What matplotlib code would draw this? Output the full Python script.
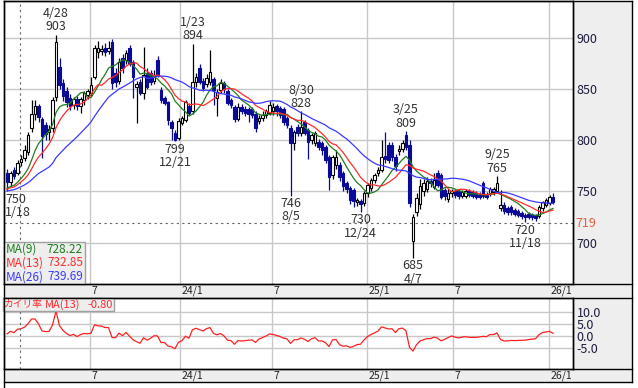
import numpy as np
import pandas as pd
import matplotlib
matplotlib.use("Agg")
import matplotlib.pyplot as plt
from matplotlib.patches import Rectangle
from matplotlib.lines import Line2D
from matplotlib import transforms

plt.rcParams['font.family'] = ['Noto Sans CJK JP', 'DejaVu Sans']

# weekly closes before the visible window (only feed the moving averages)
pre_closes = [748, 744, 741, 745, 750, 753, 749, 746, 750, 755, 752, 748, 751, 754, 750, 747,
              751, 755, 752, 749, 753, 756, 752, 750]

# weekly candles, week 0 = week of 2023-01-16
opens = [768, 759, 771, 768, 779, 783, 788, 812, 826, 833, 821, 815, 808, 812, 842, 871, 856, 848, 841, 834,
         840, 833, 839, 844, 846, 862, 886, 887, 890, 887, 896, 866, 858, 880, 878, 890, 876, 852, 857, 846,
         866, 866, 858, 878, 849, 841, 837, 818, 807, 802, 817, 820, 833, 828, 857, 870, 858, 855, 857, 860,
         841, 849, 856, 848, 839, 832, 821, 832, 830, 830, 830, 826, 819, 822, 825, 827, 828, 833, 831, 830,
         822, 812, 797, 813, 807, 818, 810, 800, 797, 798, 797, 793, 784, 766, 776, 776, 768, 758, 753, 751,
         740, 741, 739, 748, 753, 761, 768, 771, 785, 795, 795, 784, 789, 791, 805, 795, 702, 730, 738, 750,
         752, 760, 754, 768, 766, 751, 743, 748, 750, 750, 746, 746, 750, 749, 748, 747, 758, 747, 748, 749,
         750, 734, 737, 734, 735, 732, 731, 729, 727, 728, 727, 727, 726, 734, 737, 739, 745]
highs = [772, 770, 774, 781, 786, 795, 808, 839, 839, 835, 823, 818, 815, 842, 903, 880, 860, 852, 845, 842,
         843, 842, 848, 850, 862, 893, 897, 893, 895, 897, 899, 870, 880, 884, 888, 893, 878, 858, 860, 891,
         870, 868, 868, 882, 852, 843, 838, 820, 810, 822, 824, 839, 836, 894, 866, 874, 861, 865, 888, 862,
         850, 860, 858, 850, 841, 834, 836, 835, 833, 832, 832, 828, 825, 828, 830, 838, 836, 835, 833, 832,
         824, 815, 810, 816, 828, 820, 812, 807, 809, 801, 799, 795, 786, 786, 790, 779, 770, 760, 755, 753,
         744, 743, 750, 758, 763, 768, 774, 800, 808, 798, 798, 787, 795, 800, 809, 800, 728, 748, 762, 762,
         764, 763, 768, 771, 768, 753, 752, 752, 752, 752, 751, 752, 752, 751, 750, 749, 760, 749, 754, 754,
         765, 751, 740, 736, 737, 734, 733, 731, 729, 730, 729, 728, 737, 741, 744, 747, 748]
lows = [750, 755, 762, 766, 775, 780, 786, 808, 820, 818, 783, 800, 800, 808, 838, 850, 838, 832, 829, 830,
        829, 827, 834, 840, 843, 860, 880, 883, 882, 884, 850, 852, 855, 866, 874, 872, 841, 817, 844, 840,
        850, 854, 855, 862, 836, 834, 815, 800, 799, 800, 815, 818, 825, 826, 852, 855, 848, 852, 854, 834,
        824, 846, 846, 834, 831, 818, 819, 826, 824, 818, 822, 808, 816, 819, 822, 825, 825, 824, 822, 815,
        812, 746, 790, 804, 804, 805, 782, 796, 794, 790, 786, 778, 751, 762, 772, 760, 750, 748, 738, 735,
        736, 730, 736, 745, 750, 758, 765, 769, 778, 778, 780, 770, 786, 788, 790, 735, 685, 726, 733, 746,
        749, 754, 752, 754, 743, 742, 740, 745, 744, 743, 744, 744, 745, 744, 743, 743, 744, 743, 746, 747,
        748, 731, 728, 727, 727, 726, 725, 723, 720, 723, 722, 721, 724, 731, 735, 737, 738]
closes = [759, 768, 765, 778, 782, 790, 805, 826, 833, 823, 804, 806, 811, 839, 896, 854, 843, 837, 833, 840,
          833, 840, 846, 848, 854, 890, 890, 889, 886, 890, 856, 857, 876, 870, 885, 874, 862, 855, 846, 864,
          852, 857, 864, 864, 839, 836, 820, 812, 800, 819, 822, 837, 827, 857, 862, 857, 851, 861, 867, 849,
          847, 856, 850, 836, 834, 821, 832, 828, 827, 826, 825, 812, 822, 825, 828, 834, 832, 828, 825, 818,
          815, 797, 808, 807, 813, 807, 798, 805, 807, 793, 790, 781, 764, 784, 784, 764, 755, 752, 742, 741,
          742, 738, 748, 756, 761, 766, 771, 784, 782, 781, 784, 775, 791, 797, 793, 739, 725, 744, 755, 758,
          760, 758, 761, 756, 745, 746, 748, 750, 747, 746, 749, 750, 747, 746, 745, 745, 746, 745, 752, 752,
          758, 737, 731, 730, 730, 728, 727, 726, 725, 725, 725, 724, 735, 740, 742, 745, 740]

# labelled highs / lows: (week, date text)
high_marks = [(14, '4/28'), (53, '1/23'), (84, '8/30'), (114, '3/25'), (140, '9/25')]
low_marks = [(0, '1/18'), (48, '12/21'), (81, '8/5'), (101, '12/24'), (116, '4/7'), (148, '11/18')]

# x axis labels at month boundaries (week position)
tick_pos = [23.7, 49.4, 75.7, 102.9, 127.4, 154.9]
tick_labels = ['7', '24/1', '7', '25/1', '7', '26/1']

ma_periods = [9, 13, 26]
ma_colors = ['#1f7d1f', '#ff2b2b', '#3a3aff']
ma_values = ['728.22', '732.85', '739.69']
price_ticks = [700, 750, 800, 850, 900]
dev_ticks = [-5, 0, 5, 10]
dev_labels = ['-5.0', '0.0', '5.0', '10.0']
ref_price = 719
ref_week = 3.7
dev_value = '-0.80'

W, H = 638, 388


def rect(x0, y0, x1, y1):
    return [x0 / W, 1 - y1 / H, (x1 - x0) / W, (y1 - y0) / H]


def fx(x):
    return x / W


def fy(y):
    return 1 - y / H


fig = plt.figure(figsize=(W / 100, H / 100), dpi=100)
fig.patch.set_facecolor('white')

# grey frame behind the panels
fig.add_artist(Rectangle((fx(4), fy(382)), (632 - 4) / W, (382 - 1) / H, transform=fig.transFigure,
                         facecolor='#eeeeee', edgecolor='none', zorder=-5))

ax = fig.add_axes(rect(4, 1, 573, 284))
ax2 = fig.add_axes(rect(4, 298, 573, 369))

x = np.arange(len(closes))
o = np.array(opens, float)
h = np.array(highs, float)
l = np.array(lows, float)
c = np.array(closes, float)
up = c >= o
down_col = '#0a0a96'

# candles
ax.vlines(x[up], l[up], h[up], color='black', lw=0.9, zorder=3)
ax.vlines(x[~up], l[~up], h[~up], color=down_col, lw=0.9, zorder=3)
body = np.maximum(np.abs(c - o), 0.8)
ax.bar(x[up], body[up], bottom=np.minimum(o, c)[up], width=0.72, facecolor='white',
       edgecolor='black', lw=0.8, zorder=4)
ax.bar(x[~up], body[~up], bottom=np.minimum(o, c)[~up], width=0.72, facecolor=down_col,
       edgecolor=down_col, lw=0.8, zorder=4)

npre = len(pre_closes)
s = pd.Series(pre_closes + closes, dtype=float)
mas = [s.rolling(n, min_periods=1).mean().values[npre:] for n in ma_periods]
for m, col in zip(mas, ma_colors):
    ax.plot(x, m, color=col, lw=0.9, zorder=5)

xmin = -3 / 3.5
xmax = xmin + 569 / 3.5
ax.set_xlim(xmin, xmax)
ax.set_ylim(659.7, 935.8)
ax.set_xticks(tick_pos)
ax.set_xticklabels([])
ax.set_yticks(price_ticks)
ax.yaxis.tick_right()
ax.tick_params(length=0, labelsize=9, labelcolor='#1c1c3c', pad=2.5)
ax.grid(color='#c8c8c8', lw=1)
ax.set_axisbelow(True)

ax.axhline(ref_price, color='#666666', lw=0.8, ls=(0, (2, 3)), zorder=2)
ax.axvline(ref_week, color='#666666', lw=0.8, ls=(0, (2, 3)), zorder=2)
ax.text(1.004, ref_price, str(ref_price), transform=ax.get_yaxis_transform(), color='#e8603c',
        fontsize=9, va='center', ha='left')

for i, d in high_marks:
    ax.annotate(f'{d}\n{highs[i]}', (i, highs[i]), xytext=(0, 1), textcoords='offset points',
                ha='center', va='bottom', fontsize=9, color='#333333', linespacing=1.05, zorder=6)
for i, d in low_marks:
    if i < 3:
        ax.annotate(f'{lows[i]}\n{d}', (xmin, lows[i]), xytext=(1, -1), textcoords='offset points',
                    ha='left', va='top', fontsize=9, color='#333333', linespacing=1.05, zorder=6)
    else:
        ax.annotate(f'{lows[i]}\n{d}', (i, lows[i]), xytext=(0, -1), textcoords='offset points',
                    ha='center', va='top', fontsize=9, color='#333333', linespacing=1.05, zorder=6)

# deviation from MA(13)
dev = (c - mas[1]) / mas[1] * 100
ax2.plot(x, dev, color='#ff2020', lw=0.9)
ax2.set_xlim(xmin, xmax)
ax2.set_ylim(-13.6, 15.7)
ax2.set_xticks(tick_pos)
ax2.set_xticklabels([])
ax2.set_yticks(dev_ticks)
ax2.set_yticklabels(dev_labels)
ax2.yaxis.tick_right()
ax2.tick_params(length=0, labelsize=9, labelcolor='#1c1c3c', pad=2.5)
ax2.grid(color='#c8c8c8', lw=1)
ax2.set_axisbelow(True)
ax2.axvline(ref_week, color='#666666', lw=0.8, ls=(0, (2, 3)), zorder=2)

for a in (ax, ax2):
    for sp in a.spines.values():
        sp.set_color('black')
        sp.set_linewidth(1)

# date strips
for strip_y in (291, 376):
    tr = transforms.blended_transform_factory(ax.transData, fig.transFigure)
    tr = tr + transforms.ScaledTranslation(1.5 / 100, 0, fig.dpi_scale_trans)
    for p, lab in zip(tick_pos, tick_labels):
        fig.text(p, fy(strip_y), lab, transform=tr, fontsize=7.5, color='#222222',
                 ha='left', va='center')

# frame lines
line_kw = dict(color='black', lw=1, transform=fig.transFigure, zorder=8)
for yy in (1, 284, 298, 369, 382):
    fig.add_artist(Line2D([fx(4), fx(632)], [fy(yy), fy(yy)], **line_kw))
fig.add_artist(Line2D([fx(4), fx(4)], [fy(1), 0], **line_kw))
fig.add_artist(Line2D([fx(632), fx(632)], [fy(1), fy(382)], **line_kw))
fig.add_artist(Line2D([fx(573), fx(573)], [fy(1), fy(284)], **line_kw))
fig.add_artist(Line2D([fx(573), fx(573)], [fy(298), fy(369)], **line_kw))

# MA legend box
fig.add_artist(Rectangle((fx(4), fy(284)), 81 / W, 42 / H, transform=fig.transFigure,
                         facecolor='#eeeeee', edgecolor='#a0a0a0', lw=1, zorder=6))
for k, (n, col, val) in enumerate(zip(ma_periods, ma_colors, ma_values)):
    yy = 249 + k * 14
    fig.text(fx(6), fy(yy), f'MA({n})', color=col, fontsize=8.5, ha='left', va='center', zorder=7)
    fig.text(fx(83), fy(yy), val, color=col, fontsize=8.5, ha='right', va='center', zorder=7)

# deviation legend box
fig.add_artist(Rectangle((fx(3), fy(311)), 111 / W, 13 / H, transform=fig.transFigure,
                         facecolor='#eeeeee', edgecolor='#a0a0a0', lw=1, zorder=6))
fig.text(fx(4), fy(304.5), 'カイリ率', color='#ff2a2a', fontsize=7, ha='left', va='center', zorder=7)
fig.text(fx(45), fy(304.5), 'MA(13)', color='#ff2a2a', fontsize=8, ha='left', va='center', zorder=7)
fig.text(fx(113), fy(304.5), dev_value, color='#ff2a2a', fontsize=8, ha='right', va='center', zorder=7)

fig.savefig('out.png', dpi=100)
